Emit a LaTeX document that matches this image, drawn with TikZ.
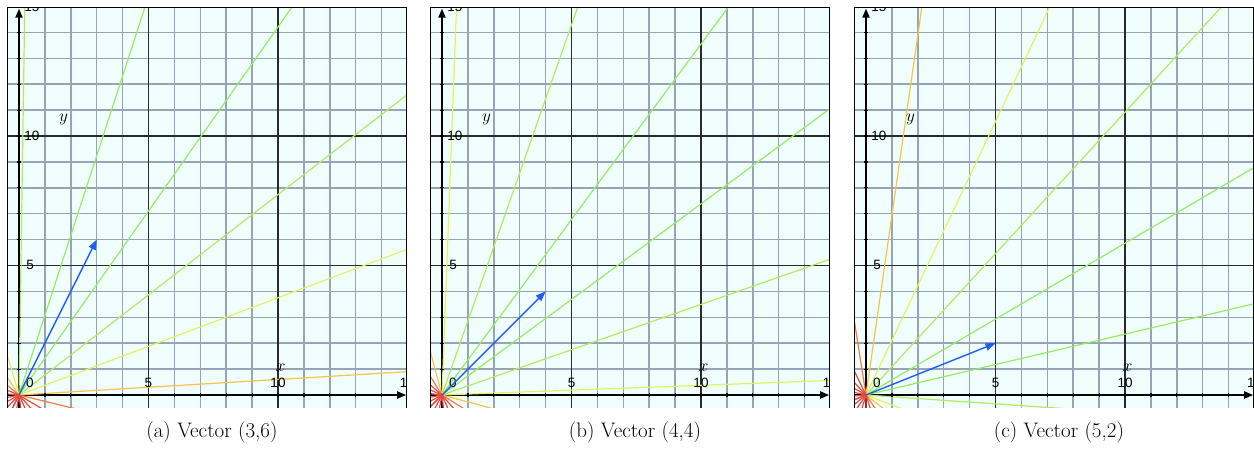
\documentclass[tikz,border=0pt]{standalone}
\usepackage{fontspec}
\newfontfamily\labfont{Liberation Sans}
\usetikzlibrary{arrows.meta}
\definecolor{bgc}{HTML}{F0FFFE}
\definecolor{gridc}{HTML}{98A3B8}
\definecolor{majc}{HTML}{2A2A2A}
\definecolor{vecc}{HTML}{1E5EF0}
\definecolor{rayA}{hsb}{0.27,0.58,0.92}
\definecolor{rayB}{hsb}{0.24,0.60,0.93}
\definecolor{rayC}{hsb}{0.18,0.62,0.95}
\definecolor{rayD}{hsb}{0.12,0.72,0.97}
\definecolor{rayE}{hsb}{0.05,0.70,0.94}
\definecolor{rayF}{hsb}{0.01,0.72,0.90}
\tikzset{
  raystyle/.style={line width=1.2pt},
  gridline/.style={gridc, line width=1.5pt},
  majline/.style={majc, line width=1.1pt},
  axisline/.style={black, line width=1.8pt, -{Triangle[length=9pt,width=7pt]}},
  tickmark/.style={black, line width=1.2pt},
  ticklab/.style={font=\labfont\fontsize{13.5}{15}\selectfont, inner sep=0pt},
  axlab/.style={font=\fontsize{18}{20}\selectfont, inner sep=0pt},
  vecline/.style={vecc, line width=1.4pt, -{Triangle[length=10pt,width=7.5pt]}},
  captext/.style={font=\fontsize{21}{24}\selectfont, inner sep=0pt},
  framelines/.style={black, line width=1pt},
}
\newcommand\drawpanel[5]{%
\begin{scope}[shift={(#1,-395)}, x=25.9pt, y=25.9pt]
  \begin{scope}
    \clip (-0.43,-0.5) rectangle (14.97,14.98);
    \fill[bgc] (-0.43,-0.5) rectangle (14.97,14.98);
    \foreach \i in {1,...,15} \draw[gridline] (\i,-0.5) -- (\i,14.98);
    \foreach \i in {1,...,15} \draw[gridline] (-0.43,\i) -- (14.97,\i);
    \foreach \i in {5,10,15} {\draw[majline] (\i,-0.5) -- (\i,14.98);
                              \draw[majline] (-0.43,\i) -- (14.97,\i);}
    \pgfmathsetmacro\va{atan2(#3,#2)}
    \coordinate (#5O) at (0,0);
    \draw[axisline] (-0.43,0) -- (14.95,0);
    \draw[axisline] (0,-0.5) -- (0,14.92);
    \foreach \d/\c in {8.5714/rayA, 25.714/rayB, 42.857/rayC, 60/rayD, 77.143/rayE,
                       94.286/rayF, 111.43/rayF, 128.57/rayF, 145.71/rayF, 162.86/rayF, 180/rayF}
      {\draw[raystyle,\c] (#5O) -- ++(\va+\d:30);
       \draw[raystyle,\c] (#5O) -- ++(\va-\d:30);}
    \foreach \i in {1,...,14} {\draw[tickmark] (\i,-0.08) -- (\i,0.08);
                               \draw[tickmark] (-0.08,\i) -- (0.08,\i);}
    \node[ticklab] (#5l0) at (0.42,0.48) {0};
    \node[ticklab] (#5x5) at (5,0.48) {5};
    \node[ticklab] (#5x10) at (10,0.48) {10};
    \node[ticklab] (#5x15) at (15,0.48) {15};
    \node[ticklab] (#5y5) at (0.43,5.02) {5};
    \node[ticklab] (#5y10) at (0.5,10.0) {10};
    \node[ticklab] (#5y15) at (0.5,15.0) {15};
    \node[axlab] (#5lx) at (10.1,1.04) {$x$};
    \node[axlab] (#5ly) at (1.72,10.65) {$y$};
    \coordinate (#5V) at (#2,#3);
    \draw[vecline] (#5O) -- (#5V);
  \end{scope}
  \draw[framelines] (-0.43,-0.5) -- (-0.43,14.98) -- (14.97,14.98) -- (14.97,-0.5);
  \node[captext] (#5cap) at (7.45,-1.43) {#4};
\end{scope}}
\begin{document}
\begin{tikzpicture}[x=1pt,y=1pt]
\useasboundingbox (0,0) rectangle (1254,-451);
\drawpanel{19}{3}{6}{(a) Vector (3,6)}{a}
\drawpanel{442}{4}{4}{(b) Vector (4,4)}{b}
\drawpanel{866}{5}{2}{(c) Vector (5,2)}{c}
\end{tikzpicture}
\end{document}
